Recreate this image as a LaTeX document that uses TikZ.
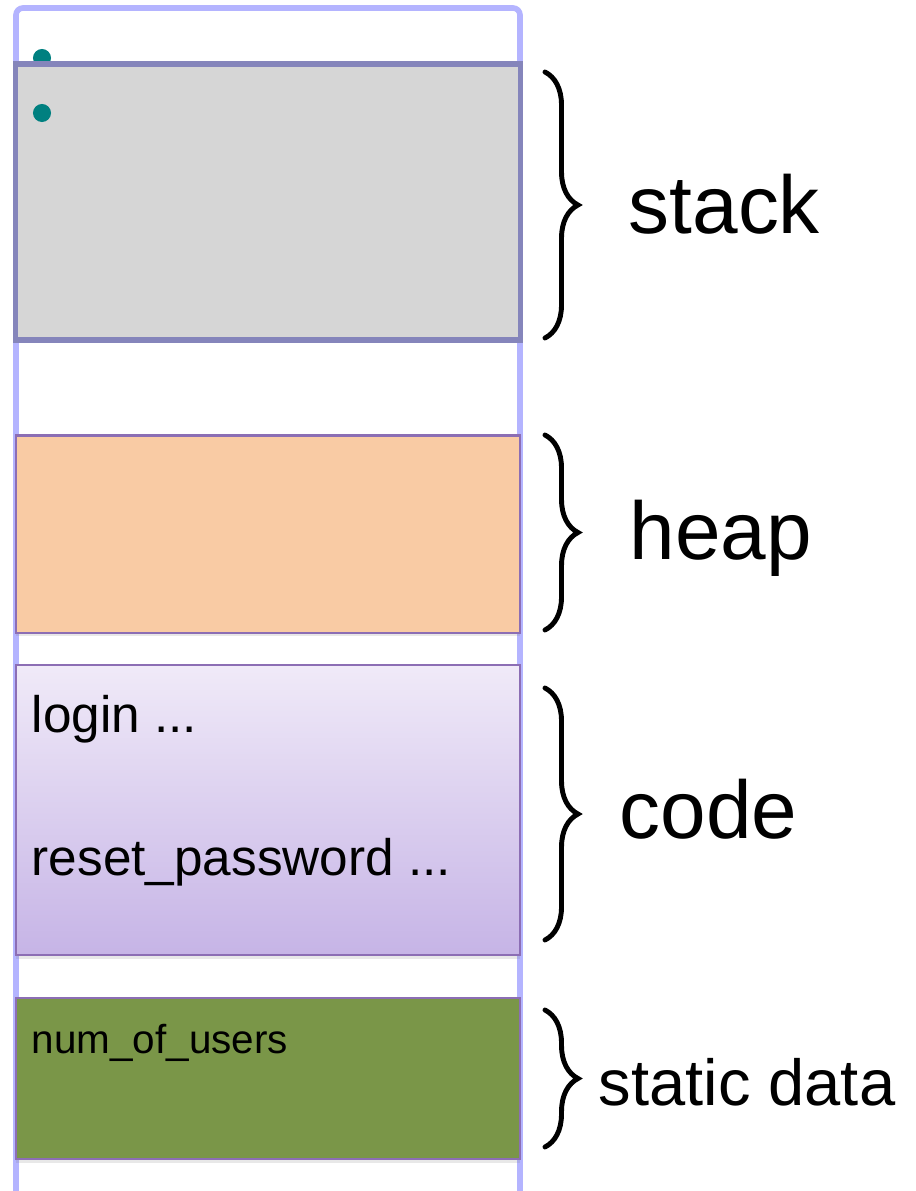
\documentclass[tikz,border=0pt]{standalone}
\usepackage{fontspec}
\setmainfont{Liberation Sans}
\usetikzlibrary{positioning,calc,decorations.pathreplacing,shadows}

\definecolor{colline}{RGB}{180,180,255}
\definecolor{stackfill}{RGB}{214,214,214}
\definecolor{stackline}{RGB}{133,133,187}
\definecolor{dotteal}{RGB}{0,128,128}
\definecolor{segline}{RGB}{140,110,180}
\definecolor{heapfill}{RGB}{249,203,164}
\definecolor{codetop}{RGB}{240,234,248}
\definecolor{codebot}{RGB}{198,180,230}
\definecolor{datafill}{RGB}{122,150,72}

\begin{document}
\begin{tikzpicture}[x=0.01cm,y=-0.01cm,
 seg/.style={draw=segline,line width=0.6pt,inner sep=0pt,outer sep=0pt,minimum width=5.04cm,
   drop shadow={opacity=0.18,shadow xshift=0pt,shadow yshift=-1pt}},
 dot/.style={circle,fill=dotteal,inner sep=0pt,minimum size=0.18cm},
 lab/.style={anchor=base west,inner sep=0pt,font=\fontsize{23.3}{28}\selectfont},
 txt/.style={anchor=base west,inner sep=0pt,font=\fontsize{14.6}{18}\selectfont},
 brc/.style={decorate,decoration={brace,amplitude=0.33cm},line width=1.4pt,line cap=round}]
\useasboundingbox (0,0) rectangle (915,1191);
% memory column
\draw[colline,line width=1.6pt,rounded corners=2pt] (16,1200) -- (16,8) -- (520,8) -- (520,1200);
\node[dot] (dot1) at (42,58) {};
\node[draw=stackline,line width=1.5pt,fill=stackfill,inner sep=0pt,outer sep=0pt,
  minimum width=5.04cm,minimum height=2.76cm] (stack) at (268,202) {};
\node[dot] (dot2) at (42,113) {};
\node[seg,minimum height=1.97cm,fill=heapfill] (heap) at (268,534) {};
\node[seg,minimum height=2.90cm,top color=codetop,bottom color=codebot] (code) at (268,810) {};
\node[seg,minimum height=1.61cm,fill=datafill] (data) at (268,1078.5) {};
% texts in the segments
\node[txt] (login) at (31,732) {login ...};
\node[txt] (reset) at (31,875) {reset\_password ...};
\node[txt,font=\fontsize{11.5}{14}\selectfont] (users) at (31,1053) {num\_of\_users};
% braces
\coordinate (s1) at (545,72);   \coordinate (s2) at (545,338);
\coordinate (h1) at (545,435);  \coordinate (h2) at (545,630);
\coordinate (c1) at (545,688);  \coordinate (c2) at (545,940);
\coordinate (d1) at (545,1010); \coordinate (d2) at (545,1147);
\draw[brc] (s1) -- (s2);
\draw[brc] (h1) -- (h2);
\draw[brc] (c1) -- (c2);
\draw[brc] (d1) -- (d2);
\node[lab] (lstack) at (628,233) {stack};
\node[lab] (lheap) at (629,559) {heap};
\node[lab] (lcode) at (619,838) {code};
\node[lab,font=\fontsize{18.5}{22}\selectfont] (ldata) at (598,1105) {static data};
\end{tikzpicture}
\end{document}
